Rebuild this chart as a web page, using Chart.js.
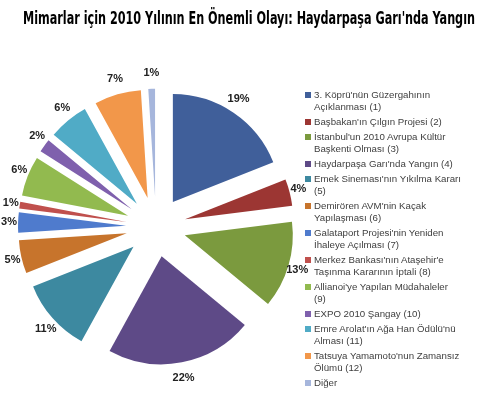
<!DOCTYPE html>
<html>
<head>
<meta charset="utf-8">
<script src="https://cdn.jsdelivr.net/npm/chart.js@4.4.1/dist/chart.umd.min.js"></script>
<style>
  html, body { margin: 0; padding: 0; background: #fff; overflow: hidden; }
  #wrap { position: relative; width: 490px; height: 393px; }
  #wrap canvas { position: absolute; left: 0; top: 0; }
  #legend { position: absolute; left: 300px; top: 89px; width: 190px;
            font: 9.7px 'Liberation Sans', Arial, sans-serif; color: #404040; }
  .item { display: flex; align-items: flex-start; margin-bottom: 3px; line-height: 12px; }
  .sw { width: 6px; height: 6px; margin: 3px 3px 0 5px; flex: none; }
  .txt { white-space: nowrap; }
</style>
</head>
<body>
<div id="wrap">
  <canvas id="pie" width="490" height="393"></canvas>
  <div id="legend"></div>
</div>
<script>
/* data (percent of votes) */
const events = [
  ["3. Köprü'nün Güzergahının", "Açıklanması (1)"],
  ["Başbakan'ın Çılgın Projesi (2)"],
  ["İstanbul'un 2010 Avrupa Kültür", "Başkenti Olması (3)"],
  ["Haydarpaşa Garı'nda Yangın (4)"],
  ["Emek Sineması'nın Yıkılma Kararı", "(5)"],
  ["Demirören AVM'nin Kaçak", "Yapılaşması (6)"],
  ["Galataport Projesi'nin Yeniden", "İhaleye Açılması (7)"],
  ["Merkez Bankası'nın Ataşehir'e", "Taşınma Kararının İptali (8)"],
  ["Allianoi'ye Yapılan Müdahaleler", "(9)"],
  ["EXPO 2010 Şangay (10)"],
  ["Emre Arolat'ın Ağa Han Ödülü'nü", "Alması (11)"],
  ["Tatsuya Yamamoto'nun Zamansız", "Ölümü (12)"],
  ["Diğer"]
];
const shares = [19, 4, 13, 22, 11, 5, 3, 1, 6, 2, 6, 7, 1];
const title = "Mimarlar için 2010 Yılının En Önemli Olayı: Haydarpaşa Garı'nda Yangın";

const palette = ['#405f9a', '#9c3633', '#7b9a3e', '#5e4a87', '#3d89a0', '#c7742c',
                 '#4f7bcd', '#c0504d', '#92ba4f', '#7f60ad', '#50abc6', '#f2974a', '#a6b6dc'];

const EXPLODE = 30;      // how far every slice is pulled out
const LABEL_GAP_X = 9;   // labels sit a bit closer on the sides
const LABEL_GAP_Y = 16;
const LEGEND_W = 186;    // room kept free on the right for the html legend

/* pie slices pulled straight out along their mid angle (Chart.js' own
   `offset` trims thin slices, the original keeps them whole) */
class ExplodedArc extends Chart.ArcElement {
  static id = 'explodedArc';
  draw(ctx) {
    const mid = (this.startAngle + this.endAngle) / 2;
    ctx.save();
    ctx.translate(Math.cos(mid) * EXPLODE, Math.sin(mid) * EXPLODE);
    super.draw(ctx);
    ctx.restore();
  }
}
class ExplodedPie extends Chart.PieController {
  static id = 'explodedPie';
  static defaults = { dataElementType: 'explodedArc' };
}
Chart.register(ExplodedArc, ExplodedPie);

/* empty box on the right so the title still spans the whole width */
const legendSpace = {
  id: 'legendSpace',
  beforeInit(chart) {
    Chart.layouts.addBox(chart, {
      position: 'right', weight: 5, fullSize: false, options: {},
      isHorizontal() { return false; },
      update(w, h) { this.width = LEGEND_W; this.height = h; return { width: LEGEND_W, height: h }; },
      draw() {}
    });
  }
};

const pctLabels = {
  id: 'pctLabels',
  afterDatasetsDraw(chart) {
    const ctx = chart.ctx;
    const meta = chart.getDatasetMeta(0);
    const vals = chart.data.datasets[0].data;
    ctx.save();
    ctx.font = 'bold 11px "Liberation Sans", Arial, sans-serif';
    ctx.fillStyle = '#222';
    ctx.textAlign = 'center';
    ctx.textBaseline = 'middle';
    meta.data.forEach((arc, i) => {
      const mid = (arc.startAngle + arc.endAngle) / 2;
      const r = arc.outerRadius + EXPLODE;
      ctx.fillText(vals[i] + '%', arc.x + Math.cos(mid) * (r + LABEL_GAP_X),
                   arc.y + Math.sin(mid) * (r + LABEL_GAP_Y));
    });
    ctx.restore();
  }
};

new Chart(document.getElementById('pie'), {
  type: 'explodedPie',
  data: {
    labels: events,
    datasets: [{ data: shares, backgroundColor: palette, borderWidth: 0,
                 radius: 108, clip: false }]
  },
  options: {
    responsive: false, animation: false,
    // title box = 23..475 (text squeezed into it), pie centre at x 156
    layout: { padding: { left: 23, right: 15, top: 0, bottom: 0 } },
    plugins: {
      legend: { display: false },
      tooltip: { enabled: false },
      title: { display: true, text: title, color: '#000',
               font: { family: "'Liberation Sans Narrow', 'DejaVu Sans Condensed', sans-serif", size: 18, weight: 'bold' },
               padding: { top: 9, bottom: 30 } }
    }
  },
  plugins: [legendSpace, pctLabels]
});

/* legend, two-line labels as in the original */
const lg = document.getElementById('legend');
events.forEach((lines, i) => {
  const it = document.createElement('div');
  it.className = 'item';
  it.innerHTML = `<span class="sw" style="background:${palette[i]}"></span>
    <span class="txt">${lines.join('<br>')}</span>`;
  lg.appendChild(it);
});
</script>
</body>
</html>
